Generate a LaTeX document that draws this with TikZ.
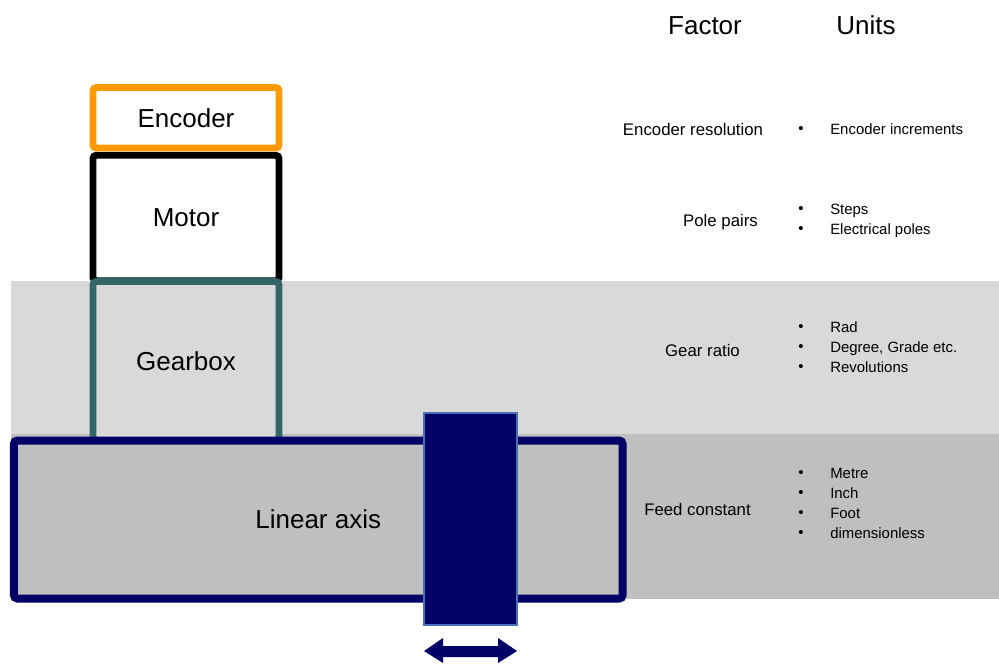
\documentclass[tikz,border=0pt]{standalone}
\usepackage{fontspec}
\setmainfont{Liberation Sans}
\definecolor{encorange}{HTML}{FF9900}
\definecolor{gearteal}{HTML}{336666}
\definecolor{navy}{HTML}{000066}
\definecolor{postedge}{HTML}{4A6FB5}
\definecolor{bandlight}{HTML}{D9D9D9}
\definecolor{banddark}{HTML}{BFBFBF}
\begin{document}
\begin{tikzpicture}[x=0.75pt,y=-0.75pt,
  part/.style={draw, rounded corners=2.5pt, line width=5.2pt, minimum width=139.5pt, inner sep=0pt,
    font=\fontsize{19.5}{23}\selectfont},
  heading/.style={anchor=base, font=\fontsize{19.5}{23}\selectfont},
  factor/.style={anchor=base, font=\fontsize{12.6}{15}\selectfont, inner sep=0pt},
  unit/.style={anchor=base west, font=\fontsize{11.2}{14}\selectfont, inner sep=0pt},
  bul/.style={anchor=base, font=\fontsize{11.2}{14}\selectfont, inner sep=0pt}]
\useasboundingbox (0,0) rectangle (999,664);
% bands
\fill[bandlight] (11,281) rectangle (999,434);
\fill[banddark] (11,434) rectangle (999,599);
% parts
\node[part, draw=black, fill=white, minimum height=94.1pt] (motor) at (186,218) {Motor};
\node[part, draw=encorange, fill=white, minimum height=45.4pt] (encoder) at (186,117.75) {Encoder};
\node[part, draw=gearteal, fill=bandlight, minimum height=119.25pt] (gearbox) at (186,361) {Gearbox};
\node[part, draw=navy, fill=banddark, line width=6pt, minimum width=456.4pt, minimum height=118.5pt] (axis) at (318.25,519.5) {Linear axis};
\node[draw=postedge, fill=navy, line width=0.8pt, minimum width=69.75pt, minimum height=159pt, inner sep=0pt] (post) at (470.5,519) {};
% double arrow
\fill[navy] (424,651) -- (443,638) -- (443,646) -- (498,646) -- (498,638) -- (517,651)
  -- (498,663) -- (498,657) -- (443,657) -- (443,663) -- cycle;
% headings
\node[heading] (hf) at (705,34.3) {Factor};
\node[heading] (hu) at (866,34.3) {Units};
% factors
\node[factor] (f1) at (693,135) {Encoder resolution};
\node[factor] (f2) at (720.5,226) {Pole pairs};
\node[factor] (f3) at (702.5,356) {Gear ratio};
\node[factor] (f4) at (697.5,515) {Feed constant};
% units
\foreach \n/\yy/\t in {u1/129/Encoder increments, u2/209/Steps, u3/229/Electrical poles,
  u4/327/Rad, u5/347/{Degree, Grade etc.}, u6/367/Revolutions,
  u7/473/Metre, u8/493/Inch, u9/513/Foot, u10/533/dimensionless}{
  \node[bul] (b\n) at (801,\yy+4.5) {•};
  \node[unit] (\n) at (830,\yy+5.4) {\t};
}
\end{tikzpicture}
\end{document}
